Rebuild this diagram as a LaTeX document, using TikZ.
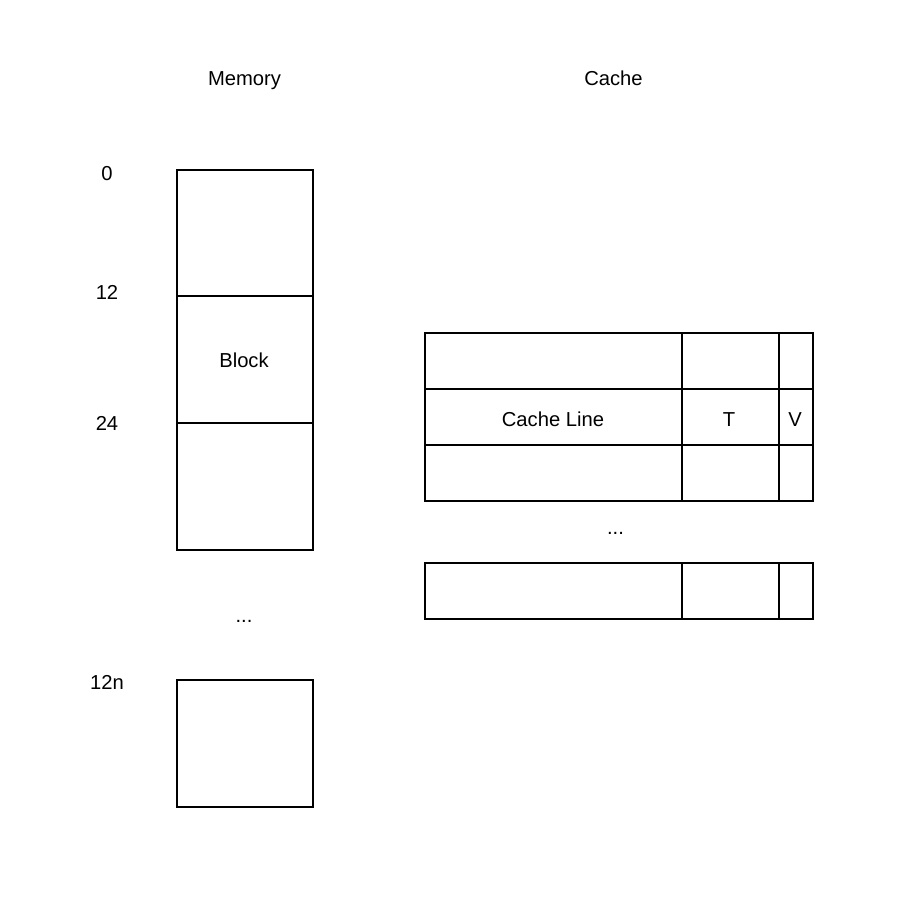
\documentclass[tikz,border=0pt]{standalone}
\usepackage{fontspec}
\setmainfont{Liberation Sans}
\begin{document}
\begin{tikzpicture}[x=1pt,y=-1pt,
  cell/.style={draw=black,line width=1.7pt,fill=white},
  lbl/.style={font=\fontsize{20.2}{24}\selectfont,inner sep=0pt,anchor=base}]
\useasboundingbox[fill=white] (0,0) rectangle (910,900);
% Memory
\node[lbl] (memt) at (244.5,85.7) {Memory};
\node[lbl] (cact) at (613.5,85.7) {Cache};
\draw[cell] (177,170) rectangle (313,296);
\draw[cell] (177,296) rectangle (313,423);
\draw[cell] (177,423) rectangle (313,550);
\draw[cell] (177,680) rectangle (313,807);
\node[lbl] (blk) at (244,367.7) {Block};
\node[lbl] (a0) at (107,180.5) {0};
\node[lbl] (a12) at (107,299.5) {12};
\node[lbl] (a24) at (107,430.5) {24};
\node[lbl] (a12n) at (107,689) {12n};
\node[lbl] (mdots) at (244,622) {...};
% Cache
\foreach \y in {333,389,445,563}{
  \draw[cell] (425,\y) rectangle (682,\y+56);
  \draw[cell] (682,\y) rectangle (779,\y+56);
  \draw[cell] (779,\y) rectangle (813,\y+56);
}
\node[lbl] (cl) at (553,426) {Cache Line};
\node[lbl] (tt) at (729,426) {T};
\node[lbl] (vv) at (795,426) {V};
\node[lbl] (cdots) at (615.5,534.5) {...};
\end{tikzpicture}
\end{document}
